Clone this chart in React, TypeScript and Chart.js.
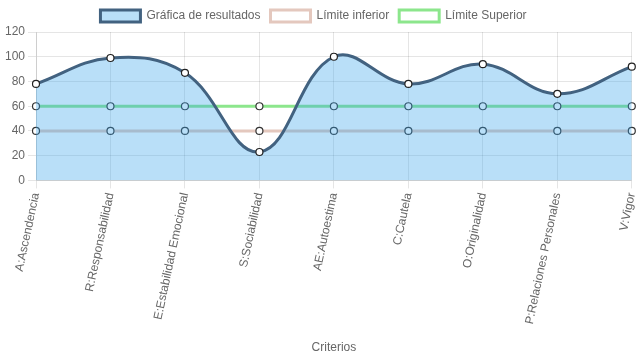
import React, { useEffect, useRef } from "react";
import { Chart, registerables } from "chart.js";

Chart.register(...registerables);

const categories = [
  "A:Ascendencia",
  "R:Responsabilidad",
  "E:Estabilidad Emocional",
  "S:Sociabilidad",
  "AE:Autoestima",
  "C:Cautela",
  "O:Originalidad",
  "P:Relaciones Personales",
  "V:Vigor",
];
const resultados = [78, 99, 87, 23, 100, 78, 94, 70, 92];
const limiteInferior = [40, 40, 40, 40, 40, 40, 40, 40, 40];
const limiteSuperior = [60, 60, 60, 60, 60, 60, 60, 60, 60];
const yTicks = { min: 0, max: 120, step: 20 };

const FONT = { family: "'Liberation Sans', Arial, sans-serif", size: 12 };

export default function App() {
  const ref = useRef<HTMLCanvasElement | null>(null);
  useEffect(() => {
    document.body.style.margin = "0";
    const ctx = ref.current!;
    const chart = new Chart(ctx, {
      type: "line",
      data: {
        labels: categories,
        datasets: [
          {
            label: "Gráfica de resultados",
            data: resultados,
            borderColor: "rgb(66,98,128)",
            backgroundColor: "rgba(54,162,235,0.35)",
            borderWidth: 3,
            fill: "origin",
            tension: 0.4,
            pointBackgroundColor: "#fff",
            pointBorderColor: "#222",
            pointBorderWidth: 1.2,
            pointRadius: 3.5,
          },
          {
            label: "Límite inferior",
            data: limiteInferior,
            borderColor: "rgb(228,200,190)",
            backgroundColor: "#fff",
            borderWidth: 3,
            fill: false,
            tension: 0.4,
            pointBackgroundColor: "#fff",
            pointBorderColor: "#333",
            pointBorderWidth: 1.2,
            pointRadius: 3.5,
          },
          {
            label: "Límite Superior",
            data: limiteSuperior,
            borderColor: "rgb(140,230,140)",
            backgroundColor: "#fff",
            borderWidth: 3,
            fill: false,
            tension: 0.4,
            pointBackgroundColor: "#fff",
            pointBorderColor: "#333",
            pointBorderWidth: 1.2,
            pointRadius: 3.5,
          },
        ],
      },
      options: {
        responsive: false,
        animation: false,
        layout: { padding: { left: -10, right: 0, top: 0, bottom: 0 } },
        plugins: {
          legend: {
            labels: {
              color: "#666",
              font: FONT,
              boxWidth: 40,
              boxHeight: 12,
            },
          },
          tooltip: { enabled: false },
        },
        scales: {
          x: {
            grid: { color: "rgba(0,0,0,0.1)" },
            afterFit: (s: any) => {
              s.paddingRight = 4;
            },
            ticks: {
              color: "#666",
              minRotation: 78,
              maxRotation: 78,
              font: FONT,
            },
            title: {
              display: true,
              text: "Criterios",
              color: "#666",
              font: FONT,
              padding: { top: 12, bottom: 4 },
            },
          },
          y: {
            min: yTicks.min,
            max: yTicks.max,
            grid: { color: "rgba(0,0,0,0.1)" },
            afterFit: (s: any) => {
              s.width = 46;
            },
            ticks: {
              stepSize: yTicks.step,
              color: "#666",
              font: FONT,
            },
          },
        },
      },
    });
    return () => chart.destroy();
  }, []);
  return (
    <div style={{ width: 637, height: 359, overflow: "hidden" }}>
      <canvas ref={ref} width={637} height={359} />
    </div>
  );
}
